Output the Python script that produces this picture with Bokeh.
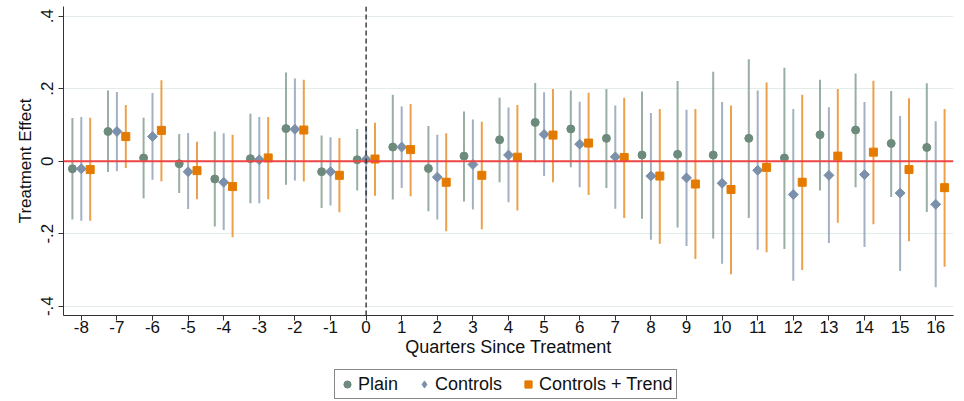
import math
from bokeh.plotting import figure
from bokeh.layouts import column
from bokeh.models import (ColumnDataSource, FixedTicker, Span, Legend, LegendItem,
                          Range1d)
from bokeh.transform import dodge
from bokeh.embed import file_html
from bokeh.resources import INLINE

quarters = list(range(-8, 17))

plain = [-0.021, 0.082, 0.009, -0.007, -0.049, 0.007, 0.090, -0.029, 0.004, 0.039,
         -0.020, 0.014, 0.059, 0.107, 0.089, 0.063, 0.017, 0.019, 0.017, 0.063,
         0.009, 0.073, 0.086, 0.049, 0.038]
plain_lo = [-0.161, -0.030, -0.102, -0.088, -0.180, -0.116, -0.065, -0.129, -0.081, -0.106,
            -0.138, -0.111, -0.058, -0.003, -0.017, -0.074, -0.159, -0.183, -0.213, -0.157,
            -0.242, -0.081, -0.072, -0.099, -0.140]
plain_hi = [0.119, 0.195, 0.120, 0.075, 0.082, 0.131, 0.245, 0.071, 0.089, 0.183,
            0.097, 0.137, 0.175, 0.216, 0.195, 0.199, 0.192, 0.221, 0.247, 0.281,
            0.258, 0.225, 0.242, 0.194, 0.215]

ctrl = [-0.021, 0.082, 0.068, -0.029, -0.058, 0.004, 0.088, -0.029, 0.005, 0.039,
        -0.044, -0.009, 0.017, 0.074, 0.047, 0.012, -0.041, -0.046, -0.061, -0.025,
        -0.092, -0.039, -0.037, -0.088, -0.119]
ctrl_lo = [-0.164, -0.028, -0.051, -0.132, -0.190, -0.116, -0.053, -0.122, -0.103, -0.074,
           -0.161, -0.133, -0.113, -0.041, -0.072, -0.131, -0.217, -0.234, -0.283, -0.244,
           -0.330, -0.226, -0.237, -0.303, -0.348]
ctrl_hi = [0.122, 0.191, 0.188, 0.078, 0.077, 0.122, 0.228, 0.066, 0.098, 0.151,
           0.073, 0.115, 0.148, 0.190, 0.164, 0.154, 0.133, 0.142, 0.163, 0.195,
           0.144, 0.149, 0.163, 0.125, 0.110]

trend = [-0.023, 0.068, 0.085, -0.026, -0.070, 0.009, 0.086, -0.039, 0.006, 0.032,
         -0.058, -0.039, 0.011, 0.072, 0.050, 0.010, -0.041, -0.063, -0.078, -0.017,
         -0.058, 0.014, 0.025, -0.023, -0.073]
trend_lo = [-0.164, -0.019, -0.055, -0.105, -0.210, -0.105, -0.056, -0.141, -0.095, -0.097,
            -0.193, -0.188, -0.136, -0.058, -0.093, -0.157, -0.228, -0.270, -0.312, -0.251,
            -0.300, -0.170, -0.174, -0.221, -0.291]
trend_hi = [0.120, 0.155, 0.223, 0.054, 0.073, 0.122, 0.225, 0.064, 0.106, 0.158,
            0.077, 0.109, 0.155, 0.199, 0.189, 0.175, 0.144, 0.144, 0.154, 0.217,
            0.183, 0.199, 0.222, 0.174, 0.144]

series_labels = ["Plain", "Controls", "Controls + Trend"]
y_ticks = [-0.4, -0.2, 0.0, 0.2, 0.4]
y_tick_labels = ["-.4", "-.2", "0", ".2", ".4"]

FONT = "Liberation Sans"
GREEN = "#6d8b7d"
BLUE = "#7b90ab"
ORANGE = "#e47b00"

p = figure(width=964, height=369, output_backend="svg", toolbar_location=None,
           x_range=Range1d(-8.5, 16.5), y_range=Range1d(-0.4257, 0.4268),
           min_border_left=63, min_border_right=11, min_border_top=6,
           min_border_bottom=54)
p.outline_line_color = None
p.background_fill_color = "white"
p.border_fill_color = "white"

# grid
p.xgrid.grid_line_color = None
p.ygrid.ticker = FixedTicker(ticks=[-0.4, -0.2, 0.2, 0.4])
p.ygrid.grid_line_color = "#e4ece8"
p.ygrid.grid_line_width = 1

# axes
for ax in (p.xaxis[0], p.yaxis[0]):
    ax.axis_line_color = "#333333"
    ax.axis_line_width = 1
    ax.major_tick_line_color = "#333333"
    ax.major_tick_out = 5
    ax.major_tick_in = 0
    ax.minor_tick_line_color = None
    ax.major_label_text_font = FONT
    ax.major_label_text_font_size = "17px"
    ax.major_label_text_color = "#111111"
    ax.axis_label_text_font = FONT
    ax.axis_label_text_font_style = "normal"
    ax.axis_label_text_color = "#111111"

p.xaxis.ticker = FixedTicker(ticks=quarters)
p.xaxis.major_label_overrides = {q: str(q) for q in quarters}
p.xaxis.axis_label = "Quarters Since Treatment"
p.xaxis.axis_label_text_font_size = "18px"
p.xaxis.major_label_standoff = 0
p.xaxis.axis_label_standoff = 1

p.yaxis.ticker = FixedTicker(ticks=y_ticks)
p.yaxis.major_label_overrides = {t: l for t, l in zip(y_ticks, y_tick_labels)}
p.yaxis.major_label_orientation = "vertical"
p.yaxis.axis_label = "Treatment Effect"
p.yaxis.axis_label_text_font_size = "17px"
p.yaxis.major_label_standoff = 5
p.yaxis.axis_label_standoff = 4

# reference lines
p.add_layout(Span(location=0, dimension="width", line_color="#ee4545", line_width=2))
p.add_layout(Span(location=0, dimension="height", line_color="#222222", line_width=1.3,
                  line_dash="5 3"))

src = ColumnDataSource(dict(q=quarters,
                            plain=plain, plain_lo=plain_lo, plain_hi=plain_hi,
                            ctrl=ctrl, ctrl_lo=ctrl_lo, ctrl_hi=ctrl_hi,
                            trend=trend, trend_lo=trend_lo, trend_hi=trend_hi))

series = [("plain", -0.25, GREEN, "circle", 8, 0),
          ("ctrl", 0.0, BLUE, "square", 7, math.pi / 4),
          ("trend", 0.25, ORANGE, "square", 8, 0)]

for key, off, col, marker, size, ang in series:
    p.segment(x0=dodge("q", off), y0=key + "_lo", x1=dodge("q", off), y1=key + "_hi",
              source=src, line_color=col, line_width=2, line_alpha=0.7)
for key, off, col, marker, size, ang in series:
    p.scatter(x=dodge("q", off), y=key, source=src, marker=marker, size=size,
              angle=ang, fill_color=col, line_color=col)

# legend strip below the plot (its renderers are hidden; they only supply glyphs)
lf = figure(width=964, height=32, output_backend="svg", toolbar_location=None,
            x_range=Range1d(-8.5, 16.5), y_range=Range1d(-0.4257, 0.4268),
            min_border=0)
lf.outline_line_color = None
lf.axis.visible = False
lf.grid.grid_line_color = None
legend_markers = ["circle", "diamond", "square"]
legend_cols = [GREEN, BLUE, ORANGE]
legend_keys = ["plain", "ctrl", "trend"]
items = []
for lab, mk, col, key in zip(series_labels, legend_markers, legend_cols, legend_keys):
    r = lf.scatter(x="q", y=key, source=src, marker=mk, fill_color=col, line_color=col)
    r.visible = False
    items.append(LegendItem(label=lab, renderers=[r]))

legend = Legend(items=items, orientation="horizontal", location=(271, 2))
legend.label_text_font = FONT
legend.label_text_font_size = "18px"
legend.label_text_color = "#111111"
legend.border_line_color = "#111111"
legend.border_line_width = 1
legend.background_fill_color = "white"
legend.inactive_fill_alpha = 0
legend.glyph_width = 18
legend.glyph_height = 22
legend.label_standoff = 2
legend.spacing = 17
legend.padding = 3
legend.margin = 0
legend.label_height = 20
lf.add_layout(legend)

layout = column(p, lf, spacing=0)
open("out.html", "w").write(file_html(layout, INLINE))
